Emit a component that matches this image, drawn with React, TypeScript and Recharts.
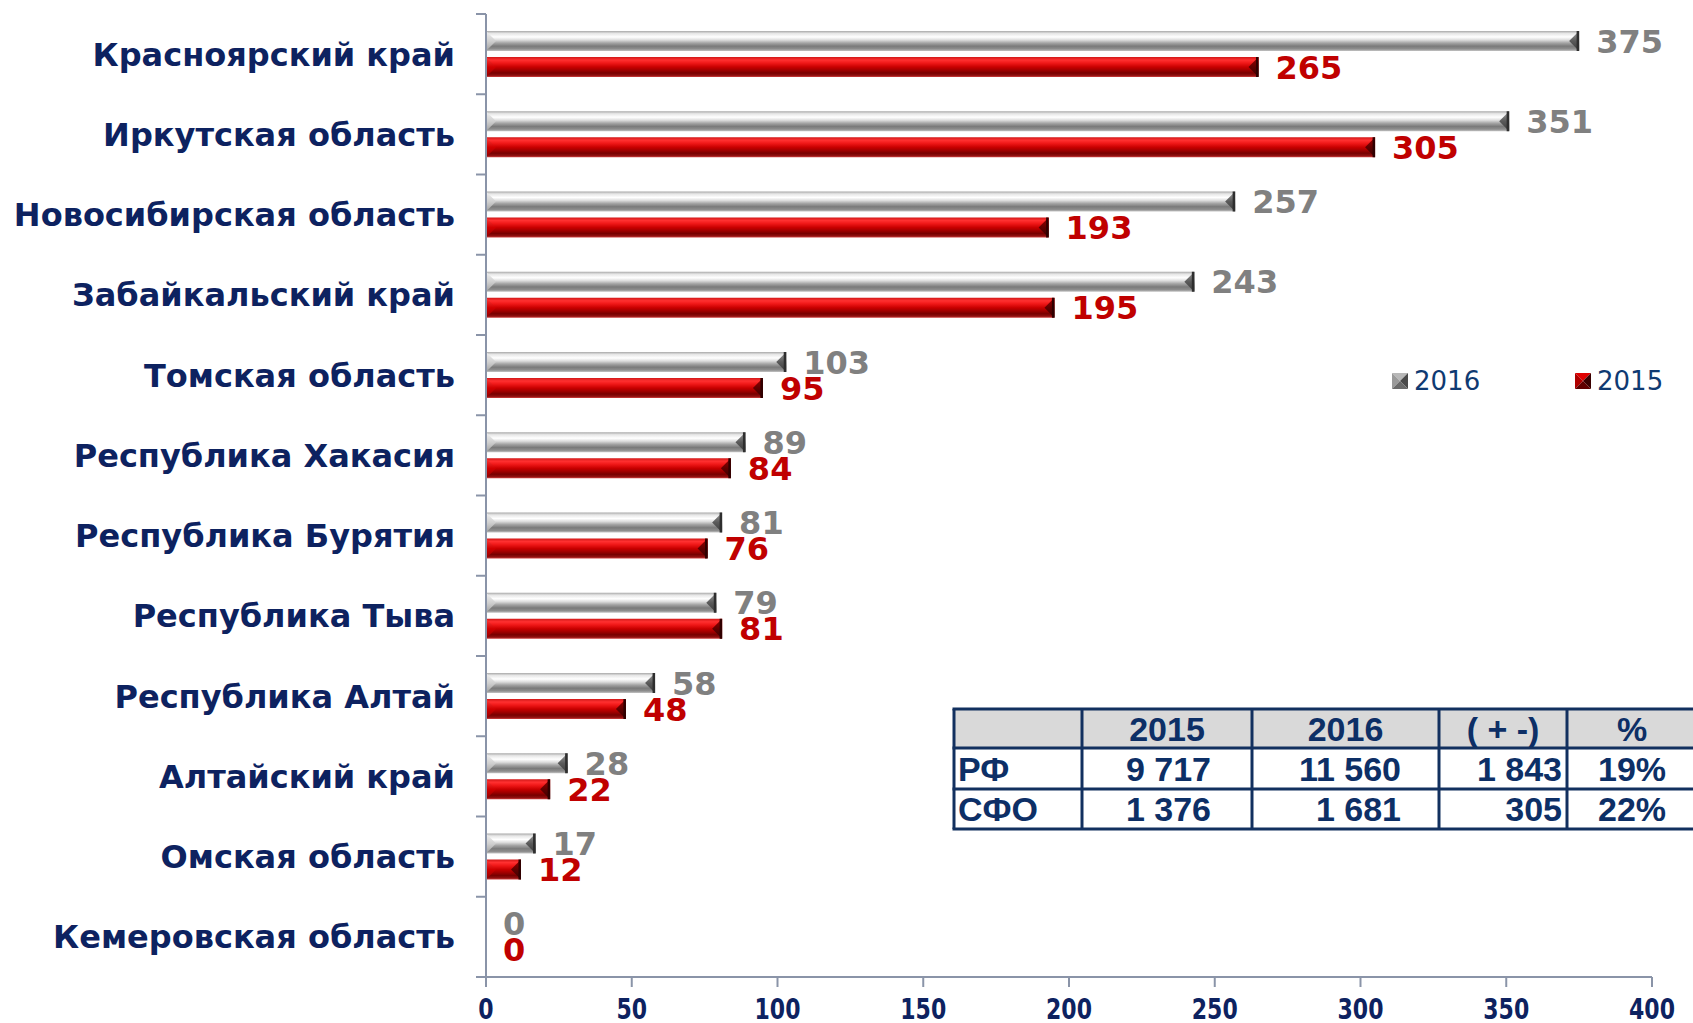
import React from 'react';
import { BarChart, Bar, XAxis, YAxis, LabelList } from 'recharts';

const categories = [
  'Красноярский край',
  'Иркутская область',
  'Новосибирская область',
  'Забайкальский край',
  'Томская область',
  'Республика Хакасия',
  'Республика Бурятия',
  'Республика Тыва',
  'Республика Алтай',
  'Алтайский край',
  'Омская область',
  'Кемеровская область',
];
const values2016 = [375, 351, 257, 243, 103, 89, 81, 79, 58, 28, 17, 0];
const values2015 = [265, 305, 193, 195, 95, 84, 76, 81, 48, 22, 12, 0];
const xTicks = [0, 50, 100, 150, 200, 250, 300, 350, 400];
const seriesNames = ['2016', '2015'];

const tableHeader = ['', '2015', '2016', '( + -)', '%'];
const tableRowLabels = ['РФ', 'СФО'];
const table2015 = ['9 717', '1 376'];
const table2016 = ['11 560', '1 681'];
const tableDiff = ['1 843', '305'];
const tablePct = ['19%', '22%'];

const data = categories.map((name, i) => ({ name, v2016: values2016[i], v2015: values2015[i] }));

const NAVY = '#0d2260';
const AXIS = '#8a94a8';
const FONT = '"DejaVu Sans", Verdana, sans-serif';

const makeShape = (id: string, edge: string) => (props: any) => {
  const { x, y, width, height } = props;
  if (!width || width <= 0) return <g />;
  const b = Math.min(height / 2, width / 2);
  return (
    <g>
      <rect x={x} y={y} width={width} height={height} fill={`url(#${id})`} />
      <polygon points={`${x},${y} ${x + b},${y + height / 2} ${x},${y + height}`} fill={`url(#${id}L)`} />
      <polygon
        points={`${x + width},${y} ${x + width - b},${y + height / 2} ${x + width},${y + height}`}
        fill={`url(#${id}R)`}
      />
      <rect x={x + width - 2.5} y={y} width={2.5} height={height} fill={edge} />
    </g>
  );
};

const makeLabel = (color: string) => (props: any) => {
  const { x, y, width, height, value } = props;
  return (
    <text
      x={x + width + 17}
      y={y + height / 2}
      dy="0.36em"
      fill={color}
      fontSize={32}
      fontWeight="bold"
      fontFamily={FONT}
    >
      {value}
    </text>
  );
};

const YTick = (props: any) => {
  const { x, y, payload, index } = props;
  const half = payload && payload.offset ? payload.offset : 40.1;
  return (
    <g>
      <text
        x={x - 31}
        y={y}
        dy="0.36em"
        textAnchor="end"
        fill={NAVY}
        fontSize={32}
        fontWeight="bold"
        fontFamily={FONT}
      >
        {payload.value}
      </text>
      <line x1={x - 10} x2={x} y1={y - half} y2={y - half} stroke={AXIS} strokeWidth={2} />
      {index === categories.length - 1 && (
        <line x1={x - 10} x2={x} y1={y + half} y2={y + half} stroke={AXIS} strokeWidth={2} />
      )}
    </g>
  );
};

const XTick = (props: any) => {
  const { x, y, payload } = props;
  return (
    <g transform={`translate(${x},${y + 30}) scale(1,1.25)`}>
      <text x={0} y={0} textAnchor="middle" fill={NAVY} fontSize={22} fontWeight="bold" fontFamily={FONT}>
        {payload.value}
      </text>
    </g>
  );
};

const LegendIcon = ({ c }: { c: string[] }) => (
  <svg width={16} height={16} style={{ display: 'block' }}>
    <polygon points="0,0 16,0 8,8" fill={c[0]} />
    <polygon points="0,0 8,8 0,16" fill={c[1]} />
    <polygon points="16,0 16,16 8,8" fill={c[2]} />
    <polygon points="0,16 8,8 16,16" fill={c[3]} />
  </svg>
);

const legendColors = [
  ['#b8b8b8', '#9a9a9a', '#4a4a4a', '#6a6a6a'],
  ['#e00000', '#b00000', '#3a0000', '#600000'],
];

const ChartLegend = () => (
  <div style={{ position: 'absolute', left: 1392, top: 366, width: 300, height: 30 }}>
    {seriesNames.map((n, i) => (
      <div
        key={n}
        style={{
          position: 'absolute',
          left: i === 0 ? 0 : 183,
          top: 0,
          display: 'flex',
          alignItems: 'center',
          fontFamily: FONT,
          fontSize: 26,
          color: '#0f3a72',
          lineHeight: '30px',
          whiteSpace: 'nowrap',
        }}
      >
        <LegendIcon c={legendColors[i]} />
        <span style={{ marginLeft: 6 }}>{n}</span>
      </div>
    ))}
  </div>
);

const colEdges = [954, 1082, 1252, 1439, 1567, 1697];
const rowEdges = [709, 748, 789, 829];
const TB = '#12305f';

const SummaryTable = () => {
  const rows = [
    tableHeader,
    [tableRowLabels[0], table2015[0], table2016[0], tableDiff[0], tablePct[0]],
    [tableRowLabels[1], table2015[1], table2016[1], tableDiff[1], tablePct[1]],
  ];
  const cellX = (r: number, c: number) => {
    const l = colEdges[c];
    const rr = colEdges[c + 1];
    if (r === 0 || c === 4) return { x: (l + rr) / 2, anchor: 'middle' };
    if (c === 0) return { x: l + 4, anchor: 'start' };
    if (c === 1) return { x: rr - 41, anchor: 'end' };
    if (c === 2) return { x: rr - 38, anchor: 'end' };
    return { x: rr - 5, anchor: 'end' };
  };
  return (
    <svg
      width={1693}
      height={1023}
      style={{ position: 'absolute', left: 0, top: 0, pointerEvents: 'none' }}
    >
      <rect
        x={colEdges[0]}
        y={rowEdges[0]}
        width={colEdges[5] - colEdges[0]}
        height={rowEdges[1] - rowEdges[0]}
        fill="#d9d9d9"
      />
      <rect
        x={colEdges[0]}
        y={rowEdges[1]}
        width={colEdges[5] - colEdges[0]}
        height={rowEdges[3] - rowEdges[1]}
        fill="#ffffff"
      />
      {rows.map((row, r) =>
        row.map((txt, c) => {
          const p = cellX(r, c);
          return (
            <text
              key={`${r}-${c}`}
              x={p.x}
              y={(rowEdges[r] + rowEdges[r + 1]) / 2}
              dy="0.36em"
              textAnchor={p.anchor as any}
              fill="#0d2f66"
              fontSize={34}
              fontWeight="bold"
              fontFamily='"Liberation Sans", Arial, sans-serif'
            >
              {txt}
            </text>
          );
        })
      )}
      {rowEdges.map((y, i) => (
        <line key={`h${i}`} x1={colEdges[0] - 1.5} x2={colEdges[5]} y1={y} y2={y} stroke={TB} strokeWidth={3} />
      ))}
      {colEdges.map((x, i) => (
        <line key={`v${i}`} x1={x} x2={x} y1={rowEdges[0]} y2={rowEdges[3]} stroke={TB} strokeWidth={3} />
      ))}
    </svg>
  );
};

export default function App() {
  return (
    <div style={{ position: 'absolute', left: 0, top: 0, width: 1693, height: 1023, background: '#fff' }}>
      <BarChart
        width={1693}
        height={1023}
        data={data}
        layout="vertical"
        margin={{ top: 14, right: 41, bottom: 0, left: 0 }}
        barSize={20}
        barGap={6}
      >
        <defs>
          <linearGradient id="g16" x1="0" y1="0" x2="0" y2="1">
            <stop offset="0%" stopColor="#a8a8a8" />
            <stop offset="12%" stopColor="#e6e6e6" />
            <stop offset="30%" stopColor="#ffffff" />
            <stop offset="45%" stopColor="#dcdcdc" />
            <stop offset="60%" stopColor="#a4a4a4" />
            <stop offset="76%" stopColor="#7a7a7a" />
            <stop offset="90%" stopColor="#8e8e8e" />
            <stop offset="100%" stopColor="#c4c4c4" />
          </linearGradient>
          <linearGradient id="g16L" x1="0" y1="0" x2="0" y2="1">
            <stop offset="0%" stopColor="#f2f2f2" />
            <stop offset="50%" stopColor="#d0d0d0" />
            <stop offset="100%" stopColor="#a0a0a0" />
          </linearGradient>
          <linearGradient id="g16R" x1="0" y1="0" x2="0" y2="1">
            <stop offset="0%" stopColor="#9a9a9a" />
            <stop offset="50%" stopColor="#5a5a5a" />
            <stop offset="100%" stopColor="#3a3a3a" />
          </linearGradient>
          <linearGradient id="g15" x1="0" y1="0" x2="0" y2="1">
            <stop offset="0%" stopColor="#d01818" />
            <stop offset="15%" stopColor="#ff3030" />
            <stop offset="30%" stopColor="#f01818" />
            <stop offset="50%" stopColor="#c80000" />
            <stop offset="66%" stopColor="#a00000" />
            <stop offset="80%" stopColor="#780000" />
            <stop offset="92%" stopColor="#901010" />
            <stop offset="100%" stopColor="#d04040" />
          </linearGradient>
          <linearGradient id="g15L" x1="0" y1="0" x2="0" y2="1">
            <stop offset="0%" stopColor="#ff4040" />
            <stop offset="50%" stopColor="#d00000" />
            <stop offset="100%" stopColor="#900000" />
          </linearGradient>
          <linearGradient id="g15R" x1="0" y1="0" x2="0" y2="1">
            <stop offset="0%" stopColor="#a00000" />
            <stop offset="50%" stopColor="#600000" />
            <stop offset="100%" stopColor="#3a0000" />
          </linearGradient>
        </defs>
        <XAxis
          type="number"
          domain={[0, 400]}
          ticks={xTicks}
          interval={0}
          height={46}
          axisLine={{ stroke: AXIS, strokeWidth: 2 }}
          tickLine={{ stroke: AXIS, strokeWidth: 2 }}
          tickSize={10}
          tick={<XTick />}
        />
        <YAxis
          type="category"
          dataKey="name"
          width={486}
          interval={0}
          axisLine={{ stroke: AXIS, strokeWidth: 2 }}
          tickLine={false}
          tickSize={0}
          tickMargin={0}
          tick={<YTick />}
        />
        <Bar dataKey="v2016" name="2016" isAnimationActive={false} shape={makeShape('g16', '#2e2e2e')}>
          <LabelList dataKey="v2016" content={makeLabel('#808080')} />
        </Bar>
        <Bar dataKey="v2015" name="2015" isAnimationActive={false} shape={makeShape('g15', '#300000')}>
          <LabelList dataKey="v2015" content={makeLabel('#c00000')} />
        </Bar>
      </BarChart>
      <ChartLegend />
      <SummaryTable />
    </div>
  );
}
